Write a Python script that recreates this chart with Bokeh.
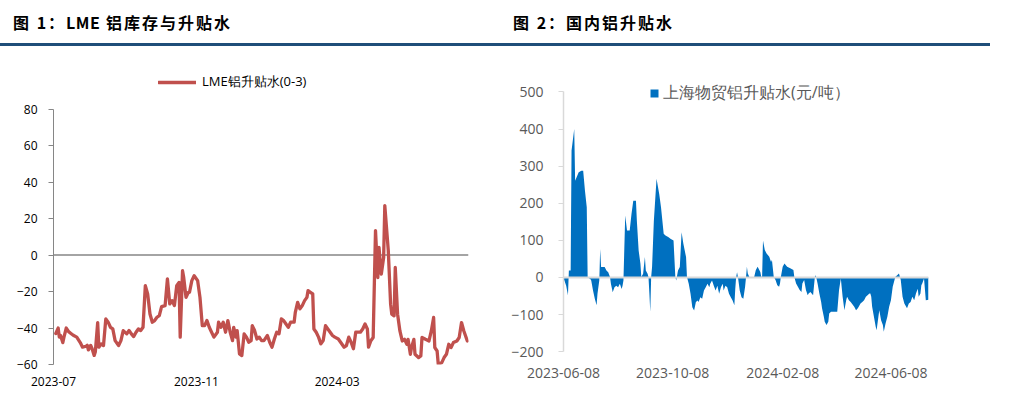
import pandas as pd
from bokeh.plotting import figure
from bokeh.models import (Div, Span, Legend, LegendItem, FixedTicker,
                          DatetimeTickFormatter, ColumnDataSource, Range1d)
from bokeh.layouts import column, row
from bokeh.embed import file_html
from bokeh.resources import INLINE

# ---------------- data ----------------
title_left = "图 1：LME 铝库存与升贴水"
title_right = "图 2：国内铝升贴水"
lme_label = "LME铝升贴水(0-3)"
sh_label = "上海物贸铝升贴水(元/吨）"

lme_dates = [
    "2023-07-03", "2023-07-05", "2023-07-06", "2023-07-07", "2023-07-09", "2023-07-10", "2023-07-12",
    "2023-07-14", "2023-07-16", "2023-07-18", "2023-07-21", "2023-07-24", "2023-07-26", "2023-07-29",
    "2023-07-30", "2023-07-31", "2023-08-02", "2023-08-03", "2023-08-05", "2023-08-06", "2023-08-08",
    "2023-08-09", "2023-08-11", "2023-08-13", "2023-08-15", "2023-08-17", "2023-08-19", "2023-08-21",
    "2023-08-23", "2023-08-26", "2023-08-28", "2023-08-30", "2023-09-02", "2023-09-04", "2023-09-06",
    "2023-09-08", "2023-09-10", "2023-09-12", "2023-09-14", "2023-09-16", "2023-09-18", "2023-09-20",
    "2023-09-22", "2023-09-24", "2023-09-26", "2023-09-28", "2023-09-30", "2023-10-02", "2023-10-05",
    "2023-10-07", "2023-10-09", "2023-10-11", "2023-10-13", "2023-10-15", "2023-10-17", "2023-10-18",
    "2023-10-20", "2023-10-21", "2023-10-23", "2023-10-25", "2023-10-26", "2023-10-28", "2023-10-30",
    "2023-11-02", "2023-11-04", "2023-11-06", "2023-11-08", "2023-11-10", "2023-11-12", "2023-11-14",
    "2023-11-16", "2023-11-19", "2023-11-20", "2023-11-22", "2023-11-24", "2023-11-26", "2023-11-28",
    "2023-11-30", "2023-12-02", "2023-12-03", "2023-12-05", "2023-12-06", "2023-12-08", "2023-12-10",
    "2023-12-12", "2023-12-14", "2023-12-16", "2023-12-18", "2023-12-19", "2023-12-21", "2023-12-23",
    "2023-12-25", "2023-12-27", "2023-12-29", "2024-01-01", "2024-01-03", "2024-01-05", "2024-01-07",
    "2024-01-09", "2024-01-11", "2024-01-13", "2024-01-15", "2024-01-17", "2024-01-19", "2024-01-21",
    "2024-01-24", "2024-01-25", "2024-01-27", "2024-01-29", "2024-01-31", "2024-02-02", "2024-02-04",
    "2024-02-05", "2024-02-07", "2024-02-09", "2024-02-10", "2024-02-12", "2024-02-14", "2024-02-16",
    "2024-02-18", "2024-02-20", "2024-02-22", "2024-02-24", "2024-02-26", "2024-02-28", "2024-03-02",
    "2024-03-04", "2024-03-07", "2024-03-09", "2024-03-11", "2024-03-13", "2024-03-15", "2024-03-17",
    "2024-03-19", "2024-03-21", "2024-03-23", "2024-03-25", "2024-03-27", "2024-03-28", "2024-03-30",
    "2024-04-01", "2024-04-03", "2024-04-05", "2024-04-06", "2024-04-08", "2024-04-10", "2024-04-11",
    "2024-04-14", "2024-04-16", "2024-04-17", "2024-04-19", "2024-04-20", "2024-04-22", "2024-04-24",
    "2024-04-26", "2024-04-28", "2024-04-30", "2024-05-01", "2024-05-03", "2024-05-04", "2024-05-06",
    "2024-05-07", "2024-05-10", "2024-05-12", "2024-05-13", "2024-05-16", "2024-05-19", "2024-05-21",
    "2024-05-23", "2024-05-24", "2024-05-26", "2024-05-27", "2024-05-30", "2024-06-01", "2024-06-03",
    "2024-06-05", "2024-06-07", "2024-06-09", "2024-06-12", "2024-06-14", "2024-06-16", "2024-06-18",
    "2024-06-21",
]
lme_values = [
    -43, -40, -45, -44, -48, -45, -40,
    -42, -43, -44, -45, -48, -50.5, -50,
    -49.5, -52, -49.5, -51, -55, -53, -37,
    -50.5, -48.7, -49.6, -35, -36.8, -39.6, -40.5,
    -46.9, -49.6, -46.9, -41.4, -43.2, -41.4, -43.2,
    -44.7, -42.3, -40.5, -41.4, -39.6, -16.8, -21.3,
    -32.3, -36.8, -35.9, -34.1, -33.2, -28.3, -27.7,
    -13.1, -26.8, -25, -27.7, -16.8, -15, -45,
    -8.6, -12.2, -23.2, -20.4, -20.4, -14, -11.3,
    -14, -23.2, -38.7, -38.7, -35.9, -39.6, -42.3,
    -45, -42.3, -36.8, -39.6, -36.8, -42.3, -35.9,
    -42.3, -46.9, -39.6, -45, -41.4, -54.2, -55.1,
    -43.2, -45, -47.8, -46.9, -38.7, -41.4, -46,
    -45, -46.9, -46.9, -44.1, -47.8, -50.5, -46,
    -42.3, -43.2, -35, -35.9, -37.8, -39.6, -36.8,
    -36.8, -31.4, -25.9, -29.5, -27.7, -25, -23.2,
    -19.5, -20.4, -21.3, -40.5, -42.3, -45, -48.7,
    -46.9, -38.7, -40.5, -42.3, -44.1, -45, -46,
    -47.8, -50.5, -49.6, -45, -47.8, -51.4, -42.3,
    -42.3, -42.3, -40.5, -37.8, -40.5, -50.5, -47,
    -45.2, 13.4, -12.3, 4.2, -10.4, -1.3, 27.1,
    2.4, -26.9, -32.4, -33.3, -6.8, -32.4, -41.6,
    -47.1, -46.2, -48.9, -46.2, -54.4, -50.7, -46.2,
    -54.4, -56.2, -55.3, -45.2, -46.2, -47.1, -41.6,
    -34.2, -50.7, -52.6, -59.9, -59, -56.2, -54.4,
    -48.9, -50.7, -48, -47.1, -45.2, -37, -41.6,
    -47.1,
]

sh_dates = [
    "2023-06-08", "2023-06-09", "2023-06-11", "2023-06-13", "2023-06-14", "2023-06-16", "2023-06-17",
    "2023-06-20", "2023-06-21", "2023-06-25", "2023-06-28", "2023-06-30", "2023-07-02", "2023-07-04",
    "2023-07-05", "2023-07-08", "2023-07-09", "2023-07-11", "2023-07-13", "2023-07-15", "2023-07-16",
    "2023-07-18", "2023-07-19", "2023-07-20", "2023-07-24", "2023-07-26", "2023-07-28", "2023-07-30",
    "2023-07-31", "2023-08-02", "2023-08-04", "2023-08-06", "2023-08-08", "2023-08-10", "2023-08-12",
    "2023-08-13", "2023-08-14", "2023-08-16", "2023-08-18", "2023-08-21", "2023-08-23", "2023-08-25",
    "2023-08-28", "2023-08-29", "2023-08-31", "2023-09-02", "2023-09-03", "2023-09-05", "2023-09-07",
    "2023-09-08", "2023-09-10", "2023-09-11", "2023-09-12", "2023-09-13", "2023-09-14", "2023-09-15",
    "2023-09-17", "2023-09-20", "2023-09-23", "2023-09-25", "2023-09-28", "2023-09-30", "2023-10-03",
    "2023-10-06", "2023-10-09", "2023-10-11", "2023-10-12", "2023-10-14", "2023-10-16", "2023-10-18",
    "2023-10-20", "2023-10-23", "2023-10-24", "2023-10-26", "2023-10-28", "2023-10-30", "2023-11-01",
    "2023-11-03", "2023-11-05", "2023-11-06", "2023-11-08", "2023-11-10", "2023-11-12", "2023-11-14",
    "2023-11-16", "2023-11-18", "2023-11-19", "2023-11-21", "2023-11-23", "2023-11-25", "2023-11-27",
    "2023-11-29", "2023-12-01", "2023-12-03", "2023-12-04", "2023-12-06", "2023-12-08", "2023-12-10",
    "2023-12-12", "2023-12-14", "2023-12-16", "2023-12-17", "2023-12-18", "2023-12-19", "2023-12-20",
    "2023-12-22", "2023-12-24", "2023-12-26", "2023-12-28", "2023-12-29", "2023-12-30", "2023-12-31",
    "2024-01-02", "2024-01-07", "2024-01-09", "2024-01-11", "2024-01-14", "2024-01-15", "2024-01-16",
    "2024-01-17", "2024-01-19", "2024-01-21", "2024-01-24", "2024-01-26", "2024-01-27", "2024-01-29",
    "2024-01-31", "2024-02-02", "2024-02-04", "2024-02-05", "2024-02-06", "2024-02-08", "2024-02-10",
    "2024-02-13", "2024-02-17", "2024-02-20", "2024-02-21", "2024-02-23", "2024-02-25", "2024-02-27",
    "2024-02-29", "2024-03-01", "2024-03-03", "2024-03-05", "2024-03-07", "2024-03-08", "2024-03-10",
    "2024-03-13", "2024-03-15", "2024-03-16", "2024-03-18", "2024-03-20", "2024-03-22", "2024-03-23",
    "2024-03-25", "2024-03-26", "2024-03-28", "2024-03-30", "2024-03-31", "2024-04-02", "2024-04-05",
    "2024-04-09", "2024-04-11", "2024-04-13", "2024-04-15", "2024-04-17", "2024-04-19", "2024-04-20",
    "2024-04-22", "2024-04-24", "2024-04-28", "2024-04-30", "2024-05-02", "2024-05-03", "2024-05-05",
    "2024-05-07", "2024-05-09", "2024-05-11", "2024-05-15", "2024-05-16", "2024-05-17", "2024-05-18",
    "2024-05-20", "2024-05-22", "2024-05-23", "2024-05-25", "2024-05-26", "2024-05-28", "2024-05-30",
    "2024-05-31", "2024-06-02", "2024-06-04", "2024-06-06", "2024-06-08", "2024-06-10", "2024-06-12",
    "2024-06-13", "2024-06-15", "2024-06-17", "2024-06-18", "2024-06-19", "2024-06-21", "2024-06-23",
    "2024-06-26", "2024-06-28", "2024-06-30", "2024-07-02", "2024-07-04", "2024-07-06", "2024-07-08",
    "2024-07-09", "2024-07-11", "2024-07-12", "2024-07-13", "2024-07-15", "2024-07-17", "2024-07-20",
]
sh_values = [
    -5, -8, -22, -48, 19, 19, 342,
    400, 261, 284, 288, 288, 234, 189,
    0, -4, -8, -35, -57, -75, -44,
    -8, 77, 28, 28, 19, 14, 1,
    -17, -40, -26, -22, -26, -17, -31,
    -22, -8, 167, 127, 127, 171, 207,
    207, 153, 73, 37, 1, 10, 55,
    19, 10, 1, -43, -93, 1, 28,
    153, 266, 225, 189, 118, 113, 109,
    104, 100, 1, -8, 19, 28, 122,
    91, 55, 1, -17, -44, -80, -89,
    -66, -62, -66, -53, -57, -35, -26,
    -17, -26, -17, -8, -22, -35, -22,
    -44, -26, -17, -35, -22, -26, -44,
    -53, -62, -75, -31, 1, 14, 1,
    -35, -53, -57, -25, 0, 29, 11,
    0, 0, 20, 29, 15, 2, 2,
    100, 74, 65, 56, 42, 47, 2,
    -7, -21, -25, -16, 2, 29, 38,
    29, 24, 20, 1, -16, -25, -34,
    -39, -16, -7, -34, -48, -43, -39,
    -48, 2, 6, -16, -43, -66, -83,
    -106, -119, -128, -119, -97, -92, -92,
    -92, -34, -3, -52, -88, -61, -52,
    -61, -66, -79, -88, -83, -79, -70,
    -66, -61, -52, -43, -43, -52, -79,
    -106, -133, -142, -106, -88, -115, -128,
    -146, -124, -106, -79, -61, -25, -7,
    2, 6, 11, 2, -7, -52, -70,
    -83, -70, -66, -52, -61, -43, -30,
    -52, -43, -21, -16, -3, -61, -60,
]

left_xticks = ["2023-07-01", "2023-11-01", "2024-03-01"]
right_xticks = ["2023-06-08", "2023-10-08", "2024-02-08", "2024-06-08"]
left_yticks = [-60, -40, -20, 0, 20, 40, 60, 80]
right_yticks = [-200, -100, 0, 100, 200, 300, 400, 500]

# ---------------- helpers ----------------
def ms(dates):
    return [float(t.value // 10**6) for t in pd.to_datetime(dates)]

FONT = "Open Sans"

# ---------------- header ----------------
tstyle = ('position:absolute;top:12px;font-size:16px;font-weight:bold;letter-spacing:2px;'
          'line-height:20px;color:#000;white-space:nowrap;')
title_left_html = title_left.replace("LME", '<span style="letter-spacing:0.5px">LME</span>')
header_html = (
    '<div style="position:relative;width:995px;height:48px;font-family:\'Noto Sans CJK SC\';">'
    '<div style="left:13px;' + tstyle + '">' + title_left_html + '</div>'
    '<div style="left:513px;' + tstyle + '">' + title_right + '</div>'
    '<div style="position:absolute;left:0px;top:43px;width:990px;height:3px;background:#1F4E79;"></div>'
    '</div>'
)
header = Div(text=header_html, width=995, height=48, margin=0)

# shared vertical borders (frames of a row are aligned)
BT, BB, H = 20, 44, 360

# ---------------- left chart ----------------
lsrc = ColumnDataSource(dict(x=pd.to_datetime(lme_dates), y=lme_values))
p1 = figure(width=505, height=H, output_backend="svg", toolbar_location=None,
            x_axis_type="datetime",
            x_range=Range1d(pd.Timestamp("2023-07-01"), pd.Timestamp("2024-06-22")),
            y_range=Range1d(-60, 102.3),
            min_border_left=53, min_border_right=37, min_border_top=BT, min_border_bottom=BB)
p1.outline_line_color = None
p1.xgrid.visible = False
p1.ygrid.visible = False

zero1 = Span(location=0, dimension="width", line_color="#868686", line_width=1.5, level="underlay")
p1.add_layout(zero1)
r1 = p1.line("x", "y", source=lsrc, line_color="#C0504D", line_width=3.3,
             line_join="round", line_cap="round")

p1.yaxis.ticker = FixedTicker(ticks=left_yticks)
p1.yaxis.bounds = (-60, 80)
p1.yaxis.axis_line_color = "#868686"
p1.yaxis.major_tick_line_color = "#868686"
p1.yaxis.major_tick_in = 0
p1.yaxis.major_tick_out = 5
p1.yaxis.minor_tick_line_color = None
p1.yaxis.major_label_standoff = 11
p1.yaxis.major_label_text_font = FONT
p1.yaxis.major_label_text_font_size = "12px"
p1.yaxis.major_label_text_color = "#000000"

p1.xaxis.ticker = FixedTicker(ticks=ms(left_xticks))
p1.xaxis.formatter = DatetimeTickFormatter(days="%Y-%m", months="%Y-%m", years="%Y-%m")
p1.xaxis.axis_line_color = None
p1.xaxis.major_tick_line_color = None
p1.xaxis.major_tick_in = 0
p1.xaxis.major_tick_out = 0
p1.xaxis.minor_tick_line_color = None
p1.xaxis.major_label_standoff = 12
p1.xaxis.major_label_text_font = FONT
p1.xaxis.major_label_text_font_size = "12px"
p1.xaxis.major_label_text_color = "#000000"

leg1 = Legend(items=[LegendItem(label=lme_label, renderers=[r1])],
              location=(105, 273), border_line_color=None, background_fill_alpha=0,
              padding=0, margin=0, glyph_width=38, glyph_height=16, label_height=16,
              label_standoff=6, label_text_font=FONT, label_text_font_size="13px",
              label_text_color="#000000")
p1.add_layout(leg1)

# ---------------- right chart ----------------
rsrc = ColumnDataSource(dict(x=pd.to_datetime(sh_dates), y=sh_values))
p2 = figure(width=490, height=H, output_backend="svg", toolbar_location=None,
            x_axis_type="datetime",
            x_range=Range1d(pd.Timestamp("2023-06-08"), pd.Timestamp("2024-07-20")),
            y_range=Range1d(-234.5, 563.3),
            min_border_left=58, min_border_right=67, min_border_top=BT, min_border_bottom=BB)
p2.outline_line_color = None
p2.xgrid.visible = False
p2.ygrid.visible = False

r2 = p2.varea(x="x", y1=0, y2="y", source=rsrc, fill_color="#0070C0")
zero2 = Span(location=0, dimension="width", line_color="#D9D9D9", line_width=2)
p2.add_layout(zero2)

p2.yaxis.ticker = FixedTicker(ticks=right_yticks)
p2.yaxis.bounds = (-200, 500)
p2.yaxis.axis_line_color = "#D9D9D9"
p2.yaxis.axis_line_width = 1.5
p2.yaxis.major_tick_line_color = "#D9D9D9"
p2.yaxis.major_tick_in = 0
p2.yaxis.major_tick_out = 5
p2.yaxis.minor_tick_line_color = None
p2.yaxis.major_label_standoff = 15
p2.yaxis.major_label_text_font = FONT
p2.yaxis.major_label_text_font_size = "14px"
p2.yaxis.major_label_text_color = "#595959"

p2.xaxis.ticker = FixedTicker(ticks=ms(right_xticks))
p2.xaxis.formatter = DatetimeTickFormatter(days="%Y-%m-%d", months="%Y-%m-%d", years="%Y-%m-%d")
p2.xaxis.axis_line_color = None
p2.xaxis.major_tick_line_color = None
p2.xaxis.major_tick_in = 0
p2.xaxis.major_tick_out = 0
p2.xaxis.minor_tick_line_color = None
p2.xaxis.major_label_standoff = 3
p2.xaxis.major_label_text_font = FONT
p2.xaxis.major_label_text_font_size = "14px"
p2.xaxis.major_label_text_color = "#595959"

leg2 = Legend(items=[LegendItem(label=sh_label, renderers=[r2])],
              location=(86, 260), border_line_color=None, background_fill_alpha=0,
              padding=0, margin=0, glyph_width=10, glyph_height=10, label_height=18,
              label_standoff=4, label_text_font=FONT, label_text_font_size="16px",
              label_text_color="#595959")
p2.add_layout(leg2)

layout = column(header, row(p1, p2, spacing=0), spacing=0)
open("out.html", "w").write(file_html(layout, INLINE))
